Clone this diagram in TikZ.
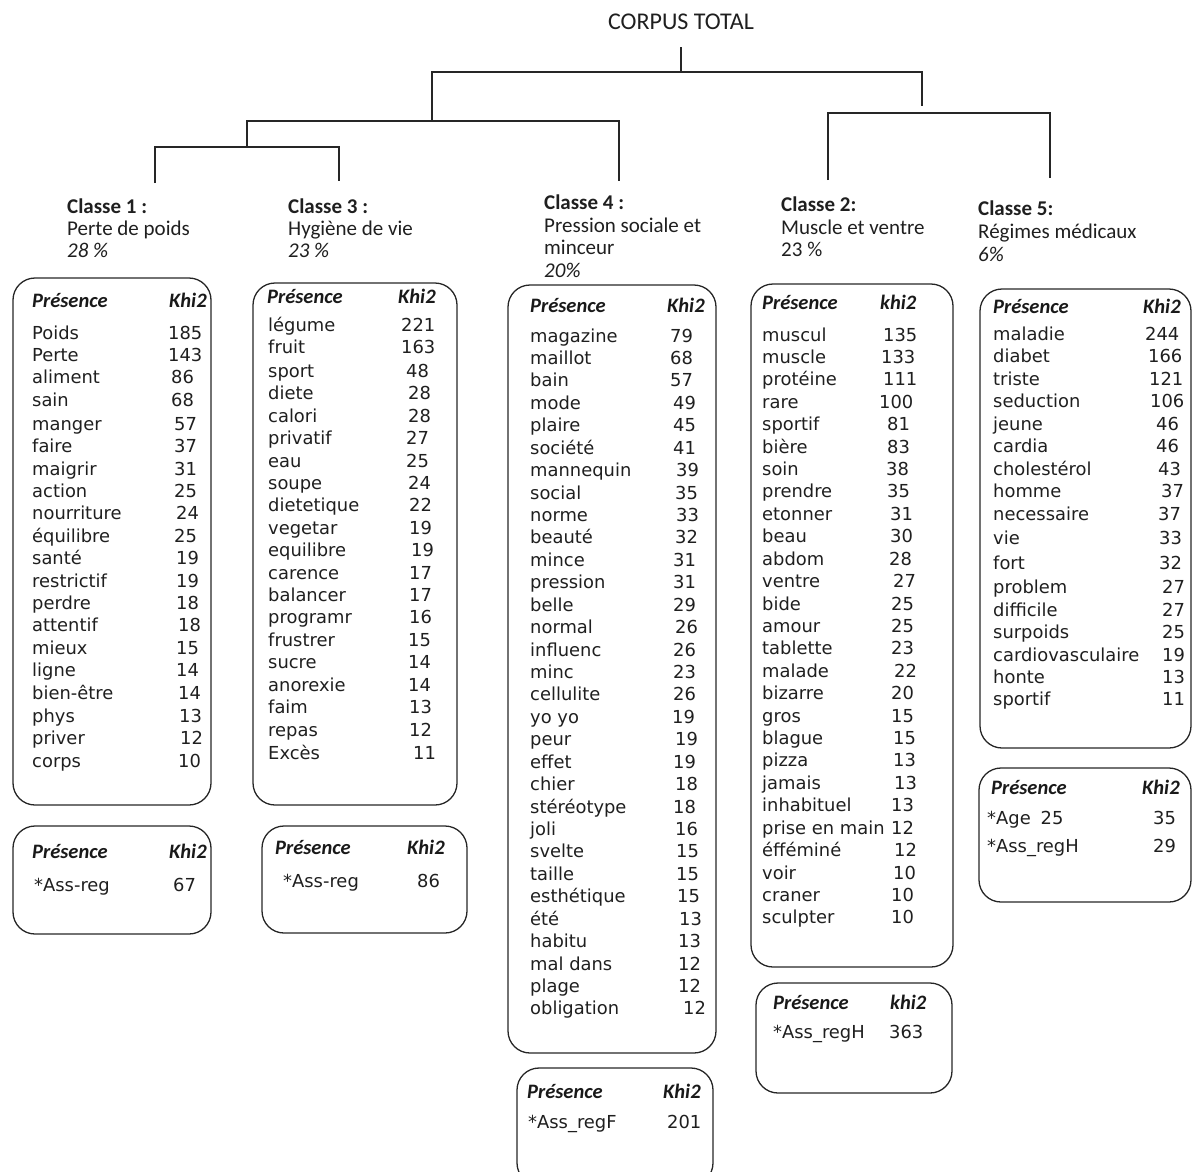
\documentclass[tikz,border=0pt]{standalone}
\usepackage{fontspec}
\setmainfont{DejaVu Sans}
\newfontfamily\calfont{Carlito}
\begin{document}
\begin{tikzpicture}[x=1pt,y=-1pt,
  box/.style={draw=black!85, line width=1.3pt, rounded corners=22pt},
  tree/.style={draw=black!85, line width=2pt},
  wd/.style={anchor=base west, inner sep=0pt, text=black!88, font=\fontsize{17.9}{20}\selectfont},
  hd/.style={anchor=base west, inner sep=0pt, text=black!90, font=\calfont\bfseries\itshape\fontsize{20.5}{24}\selectfont},
  cl/.style={anchor=base west, inner sep=0pt, text=black!88, font=\calfont\fontsize{21}{24}\selectfont},
  clb/.style={cl, font=\calfont\bfseries\fontsize{21}{24}\selectfont},
  cli/.style={cl, font=\calfont\itshape\fontsize{21}{24}\selectfont},
]
\useasboundingbox (0,0) rectangle (1193,1171);

% title and dendrogram
\node[cl, anchor=base, font=\calfont\fontsize{24}{28}\selectfont] (title) at (681,29) {CORPUS TOTAL};
\coordinate (t0) at (681,47);
\coordinate (t1) at (681,72);
\draw[tree] (t0) -- (t1);
\draw[tree] (432,121) -- (432,72) -- (922,72) -- (922,106);
\draw[tree] (828,180) -- (828,113) -- (1050,113) -- (1050,178);
\draw[tree] (247,147) -- (247,121) -- (619,121) -- (619,181);
\draw[tree] (155,183) -- (155,147) -- (339,147) -- (339,181);

% class headers
\node[clb] (h1) at (67,213) {Classe 1 :};
\node[cl]  (h1b) at (67,235) {Perte de poids};
\node[cli] (h1c) at (67,257) {28 \%};
\node[clb] (h3) at (288,213) {Classe 3 :};
\node[cl]  (h3b) at (288,235) {Hygiène de vie};
\node[cli] (h3c) at (288,257) {23 \%};
\node[clb] (h4) at (544,209) {Classe 4 :};
\node[cl]  (h4b) at (544,232) {Pression sociale et};
\node[cl]  (h4c) at (544,254) {minceur};
\node[cli] (h4d) at (544,277) {20\%};
\node[clb] (h2) at (781,211) {Classe 2:};
\node[cl]  (h2b) at (781,234) {Muscle et ventre};
\node[cl]  (h2c) at (781,256) {23 \%};
\node[clb] (h5) at (978,215) {Classe 5:};
\node[cl]  (h5b) at (978,238) {Régimes médicaux};
\node[cli] (h5c) at (978,261) {6\%};

% boxes
\draw[box] (13,278) rectangle (211,805);
\draw[box] (253,283) rectangle (457,805);
\draw[box] (508,285) rectangle (716,1053);
\draw[box] (751,284) rectangle (953,967);
\draw[box] (980,289) rectangle (1191,748);
\draw[box] (13,826) rectangle (211,934);
\draw[box] (262,826) rectangle (467,933);
\draw[box] (517,1068) rectangle (713,1185);
\draw[box] (756,983) rectangle (952,1093);
\draw[box] (979,768) rectangle (1191,902);

% box headers
\node[hd] (p1) at (32,307) {Présence};   \node[hd] (k1) at (169,307) {Khi2};
\node[hd] (p3) at (267,303) {Présence};  \node[hd] (k3) at (398,303) {Khi2};
\node[hd] (p4) at (530,312) {Présence};  \node[hd] (k4) at (667,312) {Khi2};
\node[hd] (p2) at (762,309) {Présence};  \node[hd] (k2) at (880,309) {khi2};
\node[hd] (p5) at (993,313) {Présence};  \node[hd] (k5) at (1143,313) {Khi2};
\node[hd] (p1s) at (32,858) {Présence};  \node[hd] (k1s) at (169,858) {Khi2};
\node[hd] (p3s) at (275,854) {Présence}; \node[hd] (k3s) at (407,854) {Khi2};
\node[hd] (p4s) at (527,1098) {Présence};\node[hd] (k4s) at (663,1098) {Khi2};
\node[hd] (p2s) at (773,1009) {Présence};\node[hd] (k2s) at (890,1009) {khi2};
\node[hd] (p5s) at (991,794) {Présence}; \node[hd] (k5s) at (1142,794) {Khi2};

% small box contents
\node[wd] (s1) at (34,891) {*Ass-reg};   \node[wd] (s1n) at (173,891) {67};
\node[wd] (s3) at (283,887) {*Ass-reg};  \node[wd] (s3n) at (417,887) {86};
\node[wd] (s4) at (528,1128) {*Ass\_regF}; \node[wd] (s4n) at (667,1128) {201};
\node[wd] (s2) at (773,1038) {*Ass\_regH}; \node[wd] (s2n) at (889,1038) {363};
\node[wd] (s5a) at (987,824) {*Age\hspace{0.55em}25}; \node[wd] (s5an) at (1153,824) {35};
\node[wd] (s5b) at (987,852) {*Ass\_regH}; \node[wd] (s5bn) at (1153,852) {29};

% class 1 list
\foreach \w/\n/\nx/\yy [count=\i] in {Poids/185/168/333, Perte/143/168/355.4, aliment/86/171/377.8, sain/68/171/400.2, manger/57/174/424.3, faire/37/174/446.7, maigrir/31/174/469.1, action/25/174/491.5, nourriture/24/176/513.9, équilibre/25/174/536.3, santé/19/176/558.7, restrictif/19/176/581.1, perdre/18/176/603.5, attentif/18/178/625.9, mieux/15/176/648.3, ligne/14/176/670.7, bien-être/14/178/693.1, phys/13/179/716.2, priver/12/180/738.6, corps/10/178/761}
{\node[wd] (a\i) at (32,\yy+6) {\w}; \node[wd] (an\i) at (\nx,\yy+6) {\n};}

% class 3 list
\foreach \w/\n/\nx/\yy [count=\i] in {légume/221/401/325, fruit/163/401/347.4, sport/48/406/371.5, diete/28/408/393.9, calori/28/408/416.3, privatif/27/406/438.7, eau/25/406/461.1, soupe/24/408/483.5, dietetique/22/409/505.9, vegetar/19/409/528.3, equilibre/19/411/550.7, carence/17/409/573.1, balancer/17/409/595.5, programr/16/409/617.9, frustrer/15/408/640.3, sucre/14/408/662.7, anorexie/14/408/685.1, faim/13/409/707.5, repas/12/409/730, Excès/11/413/753}
{\node[wd] (c\i) at (268,\yy+6) {\w}; \node[wd] (cn\i) at (\nx,\yy+6) {\n};}

% class 4 list
\foreach \w/\n/\nx [count=\i] in {magazine/79/670, maillot/68/670, bain/57/670, mode/49/673, plaire/45/673, société/41/673, mannequin/39/676, social/35/675, norme/33/676, beauté/32/675, mince/31/673, pression/31/673, belle/29/673, normal/26/675, influenc/26/673, minc/23/673, cellulite/26/673, yo yo/19/672, peur/19/675, effet/19/673, chier/18/675, stéréotype/18/673, joli/16/675, svelte/15/676, taille/15/676, esthétique/15/677, été/13/679, habitu/13/678, mal dans/12/678, plage/12/678, obligation/12/683}
{\node[wd] (d\i) at (530,{342+(\i-1)*22.43}) {\w}; \node[wd] (dn\i) at (\nx,{342+(\i-1)*22.43}) {\n};}

% class 2 list
\foreach \w/\n/\nx [count=\i] in {muscul/135/883, muscle/133/881, protéine/111/883, rare/100/879, sportif/81/887, bière/83/887, soin/38/886, prendre/35/887, etonner/31/890, beau/30/890, abdom/28/889, ventre/27/893, bide/25/891, amour/25/891, tablette/23/891, malade/22/894, bizarre/20/891, gros/15/891, blague/15/893, pizza/13/893, jamais/13/894, inhabituel/13/891, prise en main/12/891, éfféminé/12/894, voir/10/893, craner/10/891, sculpter/10/891}
{\node[wd] (e\i) at (762,{341+(\i-1)*22.42}) {\w}; \node[wd] (en\i) at (\nx,{341+(\i-1)*22.42}) {\n};}

% class 5 list
\foreach \w/\n/\nx/\yy [count=\i] in {maladie/244/1145/334, diabet/166/1148/356.5, triste/121/1149/379, seduction/106/1150/401, jeune/46/1156/424, cardia/46/1156/446.5, cholestérol/43/1158/469, homme/37/1161/491.5, necessaire/37/1158/514, vie/33/1159/538.5, fort/32/1159/563, problem/27/1162/587.5, difficile/27/1162/610, surpoids/25/1162/632.5, cardiovasculaire/19/1162/655, honte/13/1162/677.5, sportif/11/1162/699}
{\node[wd] (f\i) at (993,\yy+6) {\w}; \node[wd] (fn\i) at (\nx,\yy+6) {\n};}
\end{tikzpicture}
\end{document}
